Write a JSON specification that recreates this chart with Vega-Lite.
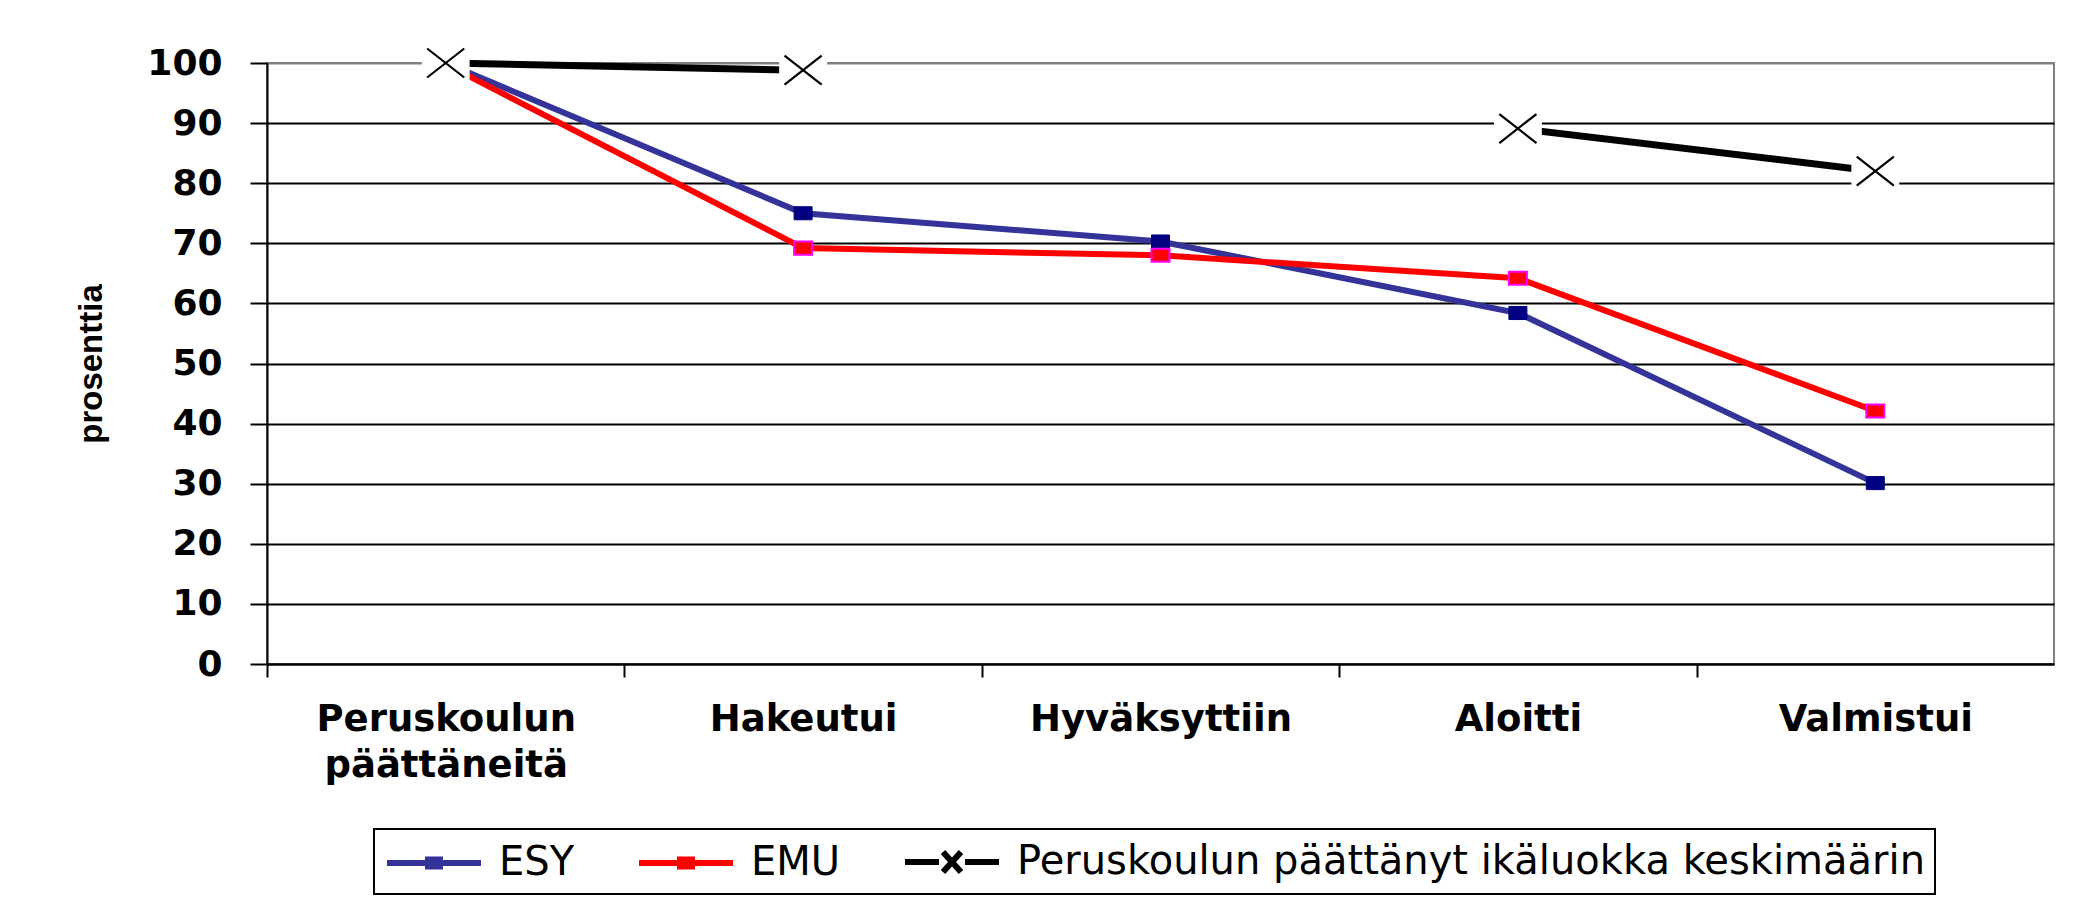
{
  "$schema": "https://vega.github.io/schema/vega-lite/v6.json",
  "width": 1787,
  "height": 601,
  "autosize": {"type": "none"},
  "padding": {"left": 267, "top": 63, "right": 41, "bottom": 234},
  "background": "white",
  "config": {"view": {"stroke": "#808080", "strokeWidth": 2}},
  "data": {
    "values": [
      {"cat": "Peruskoulun päättäneitä", "series": "ESY", "value": 100},
      {"cat": "Hakeutui", "series": "ESY", "value": 75},
      {"cat": "Hyväksyttiin", "series": "ESY", "value": 70.3},
      {"cat": "Aloitti", "series": "ESY", "value": 58.4},
      {"cat": "Valmistui", "series": "ESY", "value": 30.1},
      {"cat": "Peruskoulun päättäneitä", "series": "EMU", "value": 99.8},
      {"cat": "Hakeutui", "series": "EMU", "value": 69.2},
      {"cat": "Hyväksyttiin", "series": "EMU", "value": 68},
      {"cat": "Aloitti", "series": "EMU", "value": 64.2},
      {"cat": "Valmistui", "series": "EMU", "value": 42.1},
      {"cat": "Peruskoulun päättäneitä", "series": "Peruskoulun päättänyt ikäluokka keskimäärin", "value": 100},
      {"cat": "Hakeutui", "series": "Peruskoulun päättänyt ikäluokka keskimäärin", "value": 98.8},
      {"cat": "Hyväksyttiin", "series": "Peruskoulun päättänyt ikäluokka keskimäärin", "value": null},
      {"cat": "Aloitti", "series": "Peruskoulun päättänyt ikäluokka keskimäärin", "value": 89.1},
      {"cat": "Valmistui", "series": "Peruskoulun päättänyt ikäluokka keskimäärin", "value": 82}
    ]
  },
  "encoding": {
    "x": {
      "field": "cat",
      "type": "nominal",
      "sort": ["Peruskoulun päättäneitä", "Hakeutui", "Hyväksyttiin", "Aloitti", "Valmistui"],
      "scale": {"type": "point", "padding": 0.5},
      "axis": {
        "title": null,
        "grid": false,
        "domainColor": "black",
        "domainWidth": 2,
        "tickColor": "black",
        "tickWidth": 2,
        "tickSize": 13,
        "tickOffset": -178.7,
        "labelOffset": 178.7,
        "labelAngle": 0,
        "labelFont": "DejaVu Sans",
        "labelFontWeight": "bold",
        "labelFontSize": 37,
        "labelColor": "black",
        "labelPadding": 24,
        "labelBaseline": "top",
        "labelLineHeight": 46,
        "labelLimit": 600,
        "labelOverlap": false,
        "labelExpr": "datum.value === 'Peruskoulun päättäneitä' ? ['Peruskoulun', 'päättäneitä'] : datum.label"
      }
    },
    "y": {
      "field": "value",
      "type": "quantitative",
      "scale": {"domain": [0, 100], "nice": false},
      "axis": {
        "title": "prosenttia",
        "titleFont": "Liberation Sans",
        "titleFontWeight": "bold",
        "titleFontSize": 33,
        "titleColor": "black",
        "titleX": -176,
        "titleY": 300.5,
        "titleAngle": -90,
        "titleAlign": "center",
        "titleBaseline": "middle",
        "values": [0, 10, 20, 30, 40, 50, 60, 70, 80, 90, 100],
        "labelFont": "DejaVu Sans",
        "labelFontWeight": "bold",
        "labelFontSize": 36,
        "labelColor": "black",
        "labelPadding": 28,
        "domainColor": "black",
        "domainWidth": 2,
        "tickColor": "black",
        "tickWidth": 2,
        "tickSize": 17,
        "grid": true,
        "gridWidth": 2,
        "gridOpacity": 1,
        "gridColor": {"condition": {"test": "datum.value === 100", "value": "#808080"}, "value": "black"}
      }
    }
  },
  "layer": [
    {
      "mark": {"type": "line", "invalid": "break-paths-filter-domains"},
      "encoding": {
        "color": {
          "field": "series",
          "type": "nominal",
          "scale": {
            "domain": ["ESY", "EMU", "Peruskoulun päättänyt ikäluokka keskimäärin"],
            "range": ["#333399", "#FF0000", "#000000"]
          },
          "legend": {
            "title": null,
            "orient": "none",
            "legendX": 107,
            "legendY": 766,
            "direction": "horizontal",
            "labelFont": "DejaVu Sans",
            "labelFontSize": 40,
            "labelColor": "black",
            "labelLimit": 2000,
            "labelOffset": 69,
            "symbolSize": 1600,
            "symbolStrokeWidth": 6,
            "columnPadding": 52,
            "padding": 10,
            "strokeColor": "black",
            "encode": {
              "symbols": {
                "update": {
                  "shape": {"signal": "datum.value === 'ESY' ? 'M-1,0H3.7M1.05,-0.18H1.65V0.18H1.05Z' : datum.value === 'EMU' ? 'M-1,0H3.7M1.05,-0.18H1.65V0.18H1.05Z' : 'M-1,0H0.7M2,0H3.7M0.9,-0.5L1.8,0.5M0.9,0.5L1.8,-0.5'"},
                  "fill": {"signal": "datum.value === 'ESY' ? '#000080' : datum.value === 'EMU' ? '#FF0000' : 'transparent'"},
                  "strokeWidth": {"value": 6},
                  "opacity": {"value": 1}
                }
              },
              "legend": {"update": {"strokeWidth": {"value": 2}}}
            }
          }
        },
        "strokeWidth": {
          "condition": {"test": "datum.series === 'ESY' || datum.series === 'EMU'", "value": 6},
          "value": 7
        }
      }
    },
    {
      "transform": [{"filter": "datum.series === 'ESY'"}],
      "mark": {"type": "point", "shape": "M-1.2,-0.87H1.2V0.87H-1.2Z", "size": 225, "filled": true, "fill": "#000080", "stroke": "#000080", "strokeWidth": 1, "opacity": 1}
    },
    {
      "transform": [{"filter": "datum.series === 'EMU'"}],
      "mark": {"type": "point", "shape": "M-1.2,-0.87H1.2V0.87H-1.2Z", "size": 225, "filled": true, "fill": "#FF0000", "stroke": "#FF00FF", "strokeWidth": 2, "opacity": 1}
    },
    {
      "transform": [{"filter": "datum.series === 'Peruskoulun päättänyt ikäluokka keskimäärin' && datum.value != null"}],
      "mark": {"type": "point", "shape": "M-1.26,-1H1.26V1H-1.26Z", "size": 1444, "filled": true, "fill": "white", "strokeWidth": 0, "opacity": 1}
    },
    {
      "transform": [{"filter": "datum.series === 'Peruskoulun päättänyt ikäluokka keskimäärin' && datum.value != null"}],
      "mark": {"type": "point", "shape": "M-1.28,-1L1.28,1M-1.28,1L1.28,-1", "size": 841, "filled": false, "stroke": "black", "strokeWidth": 2.2, "opacity": 1}
    }
  ]
}
